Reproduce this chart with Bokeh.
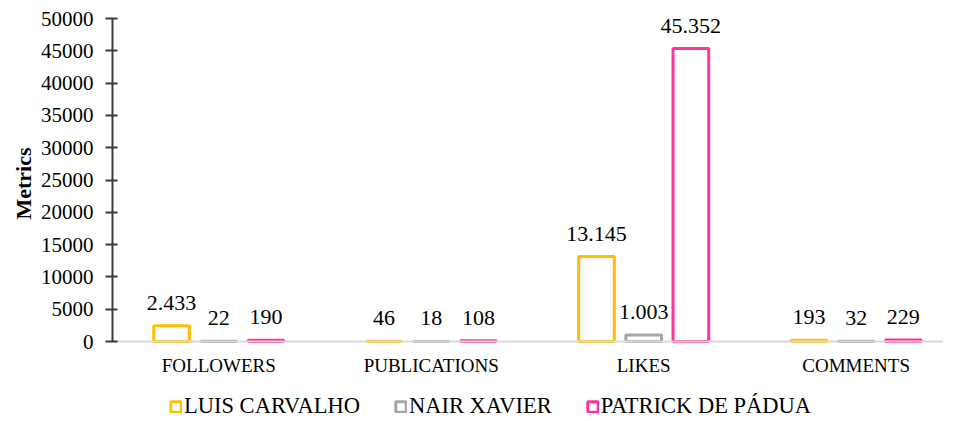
from bokeh.plotting import figure
from bokeh.models import (ColumnDataSource, Range1d, FixedTicker, LabelSet, Legend,
                          LegendItem, NumeralTickFormatter, Title)
from bokeh.transform import dodge
from bokeh.embed import file_html
from bokeh.resources import INLINE

categories = ["FOLLOWERS", "PUBLICATIONS", "LIKES", "COMMENTS"]
series_names = ["LUIS CARVALHO", "NAIR XAVIER", "PATRICK DE PÁDUA"]
luis = [2433, 46, 13145, 193]
nair = [22, 18, 1003, 32]
patrick = [190, 108, 45352, 229]
y_ticks = [0, 5000, 10000, 15000, 20000, 25000, 30000, 35000, 40000, 45000, 50000]

colors = ["#FFC000", "#A5A5A5", "#FF3399"]
offsets = [-0.222, 0.0, 0.222]
FONT = "Liberation Serif"

def fmt(v):
    return f"{v:,}".replace(",", ".")

xpos = [i + 0.5 for i in range(len(categories))]

p = figure(width=943, height=419, output_backend="svg", toolbar_location=None,
           x_range=Range1d(0, 3.911), y_range=Range1d(-12074, 50000),
           min_border_left=112, min_border_right=0, min_border_top=18,
           min_border_bottom=0)
p.outline_line_color = None
p.xgrid.visible = False
p.ygrid.visible = False
p.background_fill_color = "white"
p.border_fill_color = "white"

items = []
for name, vals, col, off in zip(series_names, [luis, nair, patrick], colors, offsets):
    src = ColumnDataSource(dict(x=xpos, value=vals, label=[fmt(v) for v in vals]))
    r = p.vbar(x=dodge("x", off, range=p.x_range), top="value", bottom=0, width=0.168,
               source=src, fill_color="white", line_color=col, line_width=3)
    items.append(LegendItem(label=name, renderers=[r]))
    lbl = LabelSet(x=dodge("x", off, range=p.x_range), y="value", text="label", source=src,
                   text_align="center", text_baseline="alphabetic", y_offset=16,
                   text_font=FONT, text_font_size="22px", text_color="#000000")
    p.add_layout(lbl)

# y axis
ya = p.yaxis[0]
ya.ticker = FixedTicker(ticks=y_ticks)
ya.bounds = (0, 50000)
ya.formatter = NumeralTickFormatter(format="0")
ya.axis_line_color = "#3a3a3a"
ya.axis_line_width = 2
ya.major_tick_line_color = "#3a3a3a"
ya.major_tick_line_width = 2
ya.major_tick_in = 5
ya.major_tick_out = 7
ya.minor_tick_line_color = None
ya.major_label_standoff = 12
ya.major_label_text_font = FONT
ya.major_label_text_font_size = "21px"
ya.major_label_text_color = "#000000"

ytitle = Title(text="Metrics", align="left", offset=200, standoff=4,
               text_font=FONT, text_font_size="22px", text_font_style="bold",
               text_color="#000000")
p.add_layout(ytitle, "left")

# x axis, drawn at y = 0
xa = p.xaxis[0]
xa.fixed_location = 0
xa.ticker = FixedTicker(ticks=xpos)
xa.major_label_overrides = {x: c for x, c in zip(xpos, categories)}
xa.axis_line_color = "#D9D9D9"
xa.axis_line_width = 2
xa.major_tick_line_color = None
xa.minor_tick_line_color = None
xa.major_tick_in = 0
xa.major_tick_out = 0
xa.major_label_standoff = 13
xa.major_label_text_font = FONT
xa.major_label_text_font_size = "19px"
xa.major_label_text_color = "#000000"

legend = Legend(items=items, orientation="horizontal", location=(57, 0),
                padding=0, margin=0, spacing=34, label_standoff=2,
                glyph_width=13, glyph_height=13,
                label_text_font=FONT, label_text_font_size="22.5px",
                label_text_color="#000000", border_line_color=None,
                background_fill_alpha=0)
p.add_layout(legend, "center")

open("out.html", "w").write(file_html(p, INLINE))
